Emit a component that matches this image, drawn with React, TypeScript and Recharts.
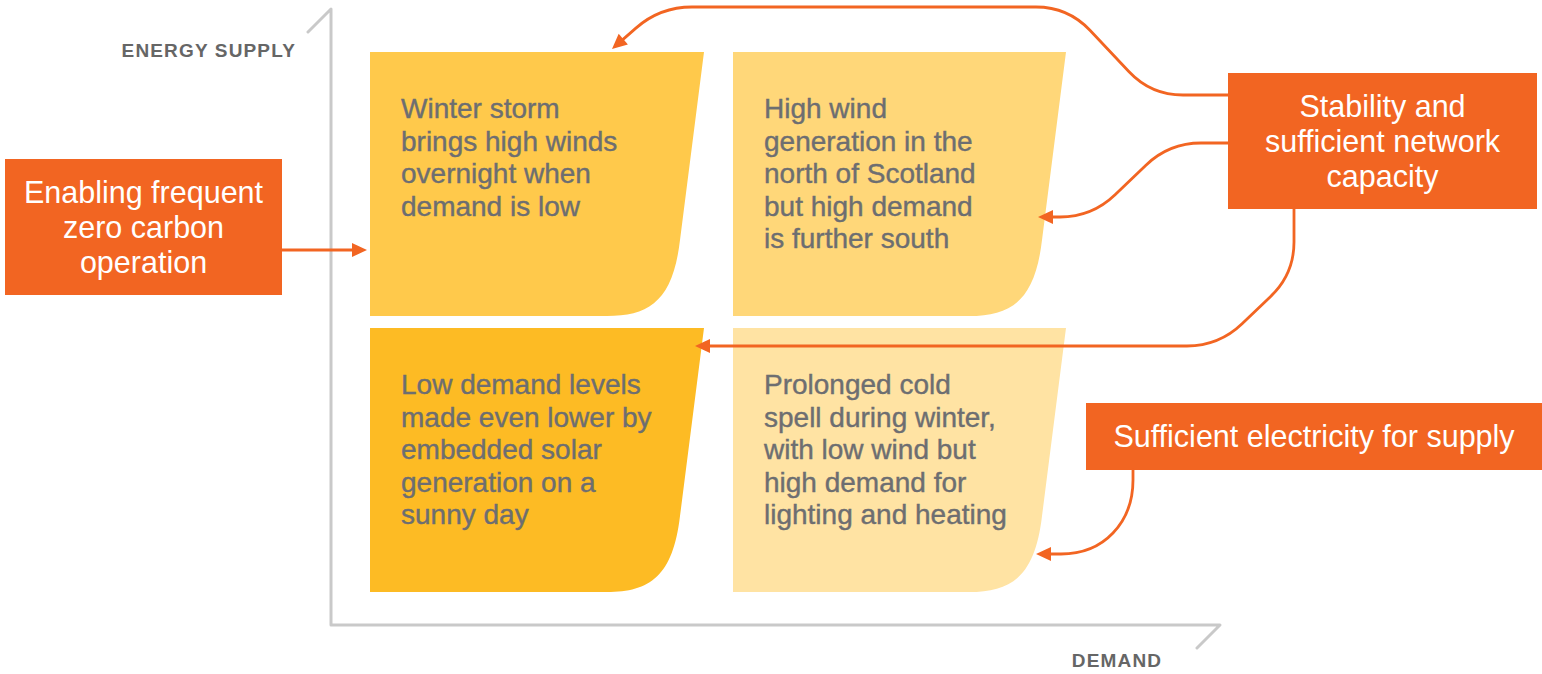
import React from 'react'
import { ComposedChart, XAxis, YAxis, Scatter, ReferenceArea, ReferenceDot } from 'recharts'

const W = 1542
const H = 674
const ORANGE = '#f26522'
const TEXT_GREY = '#6d6e71'
const AXIS_GREY = '#c9c9c9'
const LABEL_GREY = '#666666'
const FONT = '"Liberation Sans", Arial, Helvetica, sans-serif'

// four scenarios on the demand (x) / energy supply (y) plane
const scenarioText = [
  ['Winter storm', 'brings high winds', 'overnight when', 'demand is low'],
  ['High wind', 'generation in the', 'north of Scotland', 'but high demand', 'is further south'],
  ['Low demand levels', 'made even lower by', 'embedded solar', 'generation on a', 'sunny day'],
  ['Prolonged cold', 'spell during winter,', 'with low wind but', 'high demand for', 'lighting and heating'],
]
const scenarioDemand = [[370, 704], [733, 1066], [370, 704], [733, 1066]]
const scenarioSupply = [[52, 316], [52, 316], [328, 592], [328, 592]]
const scenarioFill = ['#ffc94b', '#ffd779', '#fdbb24', '#ffe3a3']

// orange callouts
const calloutText = [
  ['Enabling frequent', 'zero carbon', 'operation'],
  ['Stability and', 'sufficient network', 'capacity'],
  ['Sufficient electricity for supply'],
]
const calloutX = [[5, 282], [1228, 1537], [1086, 1542]]
const calloutY = [[159, 295], [73, 209], [403, 470]]

// connector routes (callout -> scenario)
const linkStorm = [
  { x: 1228, y: 95 }, { x: 1151, y: 95 }, { x: 1068, y: 7 }, { x: 660, y: 7 }, { x: 612, y: 49 },
]
const linkScotland = [{ x: 1228, y: 143 }, { x: 1169, y: 143 }, { x: 1092, y: 217 }, { x: 1038, y: 217 }]
const linkSolar = [{ x: 1294, y: 209 }, { x: 1294, y: 274 }, { x: 1219, y: 346 }, { x: 695, y: 346 }]
const linkCold = [{ x: 1133, y: 470 }, { x: 1133, y: 512 }, { x: 1093, y: 554 }, { x: 1036, y: 554 }]
const linkZeroCarbon = [{ x: 282, y: 250 }, { x: 367, y: 250 }]

const axisFrame = [{ x: 308, y: 32 }, { x: 331, y: 9 }, { x: 331, y: 625 }, { x: 1220, y: 625 }, { x: 1197, y: 648 }]

type Pt = { x: number; y: number }

function roundedPath(pts: Pt[], r: number, arrowLen: number) {
  let d = `M${pts[0].x},${pts[0].y}`
  const n = pts.length
  for (let i = 1; i < n - 1; i++) {
    const a = pts[i - 1]
    const p = pts[i]
    const b = pts[i + 1]
    const l1 = Math.hypot(p.x - a.x, p.y - a.y)
    const l2 = Math.hypot(b.x - p.x, b.y - p.y)
    const r1 = Math.min(r, l1 * (i - 1 === 0 ? 0.9 : 0.5))
    const r2 = Math.min(r, l2 * (i + 1 === n - 1 ? 0.9 : 0.5))
    const sx = p.x - ((p.x - a.x) / l1) * r1
    const sy = p.y - ((p.y - a.y) / l1) * r1
    const ex = p.x + ((b.x - p.x) / l2) * r2
    const ey = p.y + ((b.y - p.y) / l2) * r2
    d += ` L${sx},${sy} Q${p.x},${p.y} ${ex},${ey}`
  }
  const last = pts[n - 1]
  const prev = pts[n - 2]
  const len = Math.hypot(last.x - prev.x, last.y - prev.y)
  const ux = (last.x - prev.x) / len
  const uy = (last.y - prev.y) / len
  d += ` L${last.x - ux * arrowLen * 0.7},${last.y - uy * arrowLen * 0.7}`
  return { d, ux, uy, last }
}

function Connector(props: any) {
  const pts: Pt[] = props.points
  if (!pts || pts.length < 2) return null
  const L = 15
  const hw = 7
  const { d, ux, uy, last } = roundedPath(pts, 32, L)
  const bx = last.x - ux * L
  const by = last.y - uy * L
  const head = `${last.x},${last.y} ${bx - uy * hw},${by + ux * hw} ${bx + uy * hw},${by - ux * hw}`
  return (
    <g>
      <path d={d} fill="none" stroke={ORANGE} strokeWidth={2.8} strokeLinecap="round" />
      <polygon points={head} fill={ORANGE} />
    </g>
  )
}

function AxisFrame(props: any) {
  const pts: Pt[] = props.points
  if (!pts) return null
  return (
    <polyline
      points={pts.map((p) => `${p.x},${p.y}`).join(' ')}
      fill="none"
      stroke={AXIS_GREY}
      strokeWidth={3}
      strokeLinejoin="round"
      strokeLinecap="round"
    />
  )
}

function ScenarioCard(props: any) {
  const { x, y, width, height, fill, lines } = props
  const r = x + width
  const b = y + height
  const d = `M${x},${y} L${r},${y} L${r - 24},${b - 76} C${r - 31},${b - 16} ${r - 54},${b} ${r - 97},${b} L${x},${b} Z`
  return (
    <g>
      <path d={d} fill={fill} />
      {lines.map((t: string, i: number) => (
        <text
          key={i}
          x={x + 31}
          y={y + 66 + i * 32.5}
          fill={TEXT_GREY}
          stroke={TEXT_GREY}
          strokeWidth={0.4}
          fontSize={28}
          fontFamily={FONT}
        >
          {t}
        </text>
      ))}
    </g>
  )
}

function Callout(props: any) {
  const { x, y, width, height, lines } = props
  const cx = x + width / 2
  const cy = y + height / 2
  const lh = 35
  const start = cy - ((lines.length - 1) * lh) / 2
  return (
    <g>
      <rect x={x} y={y} width={width} height={height} fill={ORANGE} />
      {lines.map((t: string, i: number) => (
        <text
          key={i}
          x={cx}
          y={start + i * lh + 10.5}
          textAnchor="middle"
          fill="#ffffff"
          fontSize={30.5}
          fontFamily={FONT}
        >
          {t}
        </text>
      ))}
    </g>
  )
}

function AxisTitle(props: any) {
  const { cx, cy, text, anchor } = props
  return (
    <text
      x={cx}
      y={cy}
      textAnchor={anchor}
      fill={LABEL_GREY}
      fontSize={19}
      fontWeight="bold"
      letterSpacing={1.15}
      fontFamily={FONT}
    >
      {text}
    </text>
  )
}

const none = () => <g />

export default function App() {
  return (
    <div style={{ position: 'absolute', left: 0, top: 0, width: W, height: H, background: '#fff' }}>
      <ComposedChart width={W} height={H} margin={{ top: 0, right: 0, bottom: 0, left: 0 }}>
        <XAxis type="number" dataKey="x" domain={[0, W]} hide allowDataOverflow />
        <YAxis type="number" dataKey="y" domain={[0, H]} reversed hide allowDataOverflow />

        <Scatter data={axisFrame} line={(p: any) => <AxisFrame points={p.points} />} shape={none} isAnimationActive={false} />

        {scenarioText.map((lines, i) => (
          <ReferenceArea
            key={'s' + i}
            x1={scenarioDemand[i][0]}
            x2={scenarioDemand[i][1]}
            y1={scenarioSupply[i][0]}
            y2={scenarioSupply[i][1]}
            fill={scenarioFill[i]}
            fillOpacity={1}
            ifOverflow="visible"
            shape={(p: any) => <ScenarioCard {...p} fill={scenarioFill[i]} lines={lines} />}
          />
        ))}

        {calloutText.map((lines, i) => (
          <ReferenceArea
            key={'c' + i}
            x1={calloutX[i][0]}
            x2={calloutX[i][1]}
            y1={calloutY[i][0]}
            y2={calloutY[i][1]}
            fill={ORANGE}
            fillOpacity={1}
            ifOverflow="visible"
            shape={(p: any) => <Callout {...p} lines={lines} />}
          />
        ))}

        <ReferenceDot x={296} y={57} ifOverflow="visible" shape={(p: any) => <AxisTitle {...p} text="ENERGY SUPPLY" anchor="end" />} />
        <ReferenceDot x={1117} y={667} ifOverflow="visible" shape={(p: any) => <AxisTitle {...p} text="DEMAND" anchor="middle" />} />

        {[linkStorm, linkScotland, linkSolar, linkCold, linkZeroCarbon].map((link, i) => (
          <Scatter
            key={'l' + i}
            data={link}
            line={(p: any) => <Connector points={p.points} />}
            shape={none}
            isAnimationActive={false}
          />
        ))}
      </ComposedChart>
    </div>
  )
}
